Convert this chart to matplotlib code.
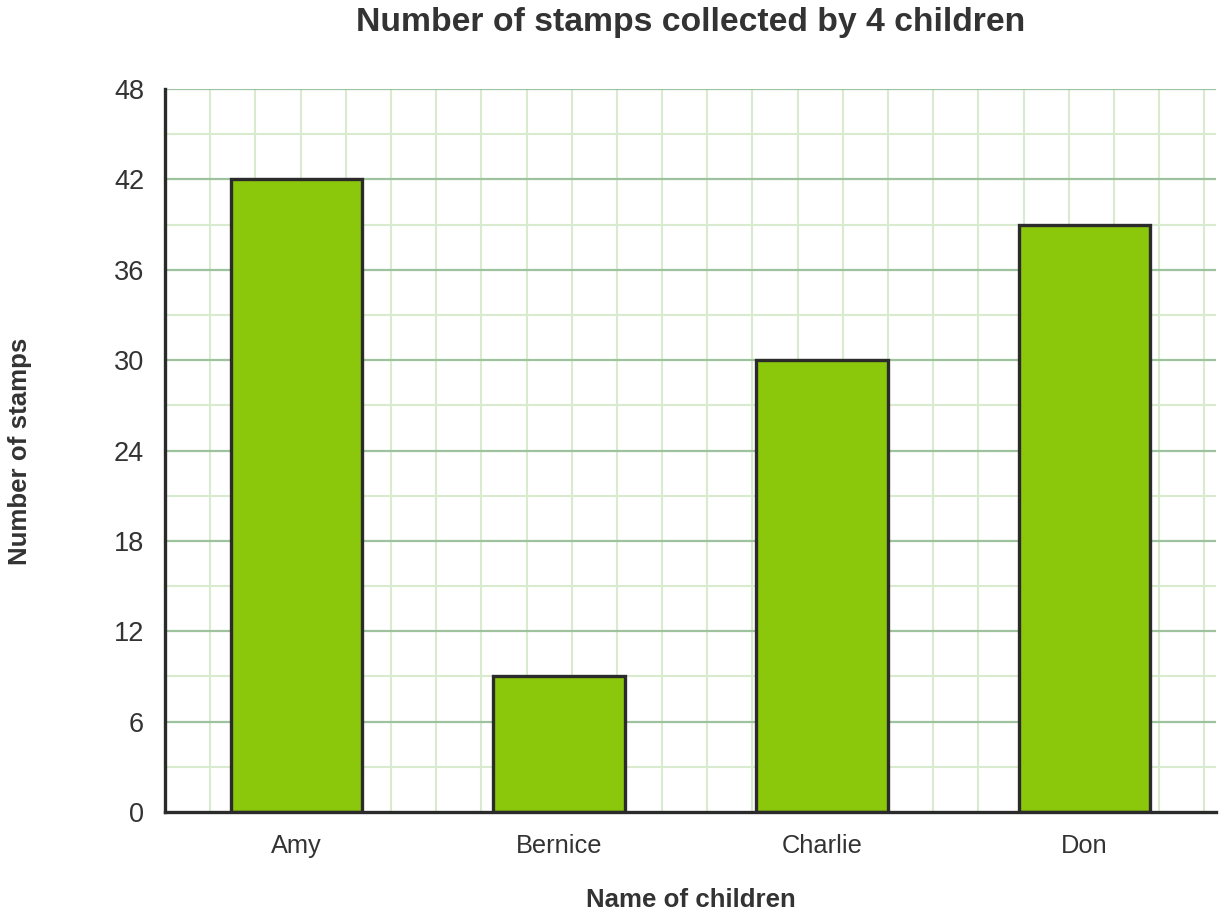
import numpy as np
import matplotlib.pyplot as plt

# data
children = ["Amy", "Bernice", "Charlie", "Don"]
stamps = [42, 9, 30, 39]
y_ticks = [0, 6, 12, 18, 24, 30, 36, 42, 48]

plt.rcParams['font.family'] = ['Liberation Sans', 'DejaVu Sans']

W, H = 1224, 917
fig = plt.figure(figsize=(W / 100, H / 100), dpi=100)
left, right, top, bottom = 165, 1216, 89, 812
ax = fig.add_axes([left / W, 1 - bottom / H, (right - left) / W, (bottom - top) / H])

x = np.arange(len(children))
ax.set_xlim(-0.5, len(children) - 0.5)
ax.set_ylim(0, 48)

# square grid cells: vertical spacing matches the 3-unit horizontal spacing
cell_px = (bottom - top) / 48 * 3
x_step = cell_px * len(children) / (right - left)
for xv in np.arange(-0.5 + x_step, len(children) - 0.5, x_step):
    ax.axvline(xv, color='#d9ebcf', lw=1.5, zorder=0)
for yv in range(3, 48, 6):
    ax.axhline(yv, color='#d9ebcf', lw=1.5, zorder=0)
for yv in y_ticks[1:]:
    ax.axhline(yv, color='#9dc29d', lw=1.6, zorder=1)

ax.bar(x, stamps, width=0.5, color='#8bc70a', edgecolor='#2b2b2b', linewidth=2.4, zorder=3)

ax.set_xticks(x)
ax.set_xticklabels(children)
ax.set_yticks(y_ticks)
ax.tick_params(axis='both', length=0, colors='#333333')
ax.tick_params(axis='y', labelsize=19.5, pad=15)
ax.tick_params(axis='x', labelsize=18.3, pad=16)

for s in ['top', 'right']:
    ax.spines[s].set_visible(False)
for s in ['left', 'bottom']:
    ax.spines[s].set_color('#2b2b2b')
    ax.spines[s].set_linewidth(2.4)
    ax.spines[s].set_zorder(4)

fig.text((left + right) / 2 / W, 1 - 22 / H, "Number of stamps collected by 4 children",
         ha='center', va='center', fontsize=24.3, fontweight='bold', color='#333333')
fig.text((left + right) / 2 / W, 1 - 900 / H, "Name of children",
         ha='center', va='center', fontsize=18.6, fontweight='bold', color='#333333')
fig.text(20 / W, 1 - 451 / H, "Number of stamps", rotation=90,
         ha='center', va='center', fontsize=18.6, fontweight='bold', color='#333333')

fig.savefig("out.png", dpi=100)
